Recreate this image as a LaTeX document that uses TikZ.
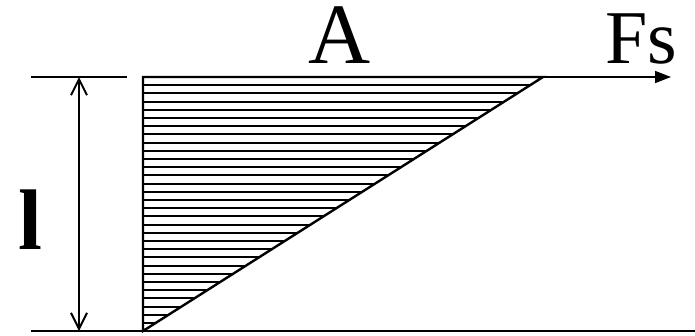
\documentclass[tikz,border=0pt]{standalone}
\usepackage{fontspec}
\setmainfont{Liberation Serif}
\usetikzlibrary{arrows.meta}

\begin{document}
\begin{tikzpicture}[x=1pt,y=-1pt,
    hatch/.style={line width=2pt},
    edge/.style={line width=2.4pt},
    bigtext/.style={inner sep=0pt,anchor=base,font=\fontsize{88}{88}\selectfont}]
    \useasboundingbox (0,0) rectangle (695,335);
    % corners of the triangle
    \coordinate (O) at (143,331);
    \coordinate (T) at (143,77);
    \coordinate (R) at (543,77);
    % hatching
    \foreach \k in {1,...,30}{
      \pgfmathsetmacro{\yy}{round(77+\k*8.2)}
      \pgfmathsetmacro{\xx}{143+(331-\yy)*1.5748}
      \draw[hatch] (143,\yy) -- (\xx,\yy);
    }
    % Draw the triangle
    \draw[edge,line join=miter] (O) -- (T) -- (R) -- cycle;
    % base line and top line
    \coordinate (BL) at (31,331);
    \coordinate (BR) at (695,331);
    \draw[edge] (BL) -- (BR);
    \coordinate (TL) at (31,77);
    \coordinate (TM) at (127,77);
    \draw[edge] (TL) -- (TM);
    % length
    \coordinate (DT) at (79,77);
    \coordinate (DB) at (79,331);
    \draw[line width=2pt,{Straight Barb[length=16pt,width=16pt,line width=2pt]}-{Straight Barb[length=16pt,width=16pt,line width=2pt]}] (DT) -- (DB);
    \node[bigtext,font=\fontsize{86}{86}\selectfont\bfseries] (l) at (30.5,249) {l};
    % force
    \coordinate (F) at (671,77);
    \draw[line width=1.6pt,-{Triangle[length=16pt,width=12pt]}] (R) -- (F);
    \node[bigtext,font=\fontsize{86}{86}\selectfont] (A) at (340,63) {A};
    \node[bigtext,font=\fontsize{76}{76}\selectfont] (Fs) at (641.5,63) {Fs};
  \end{tikzpicture}
\end{document}
